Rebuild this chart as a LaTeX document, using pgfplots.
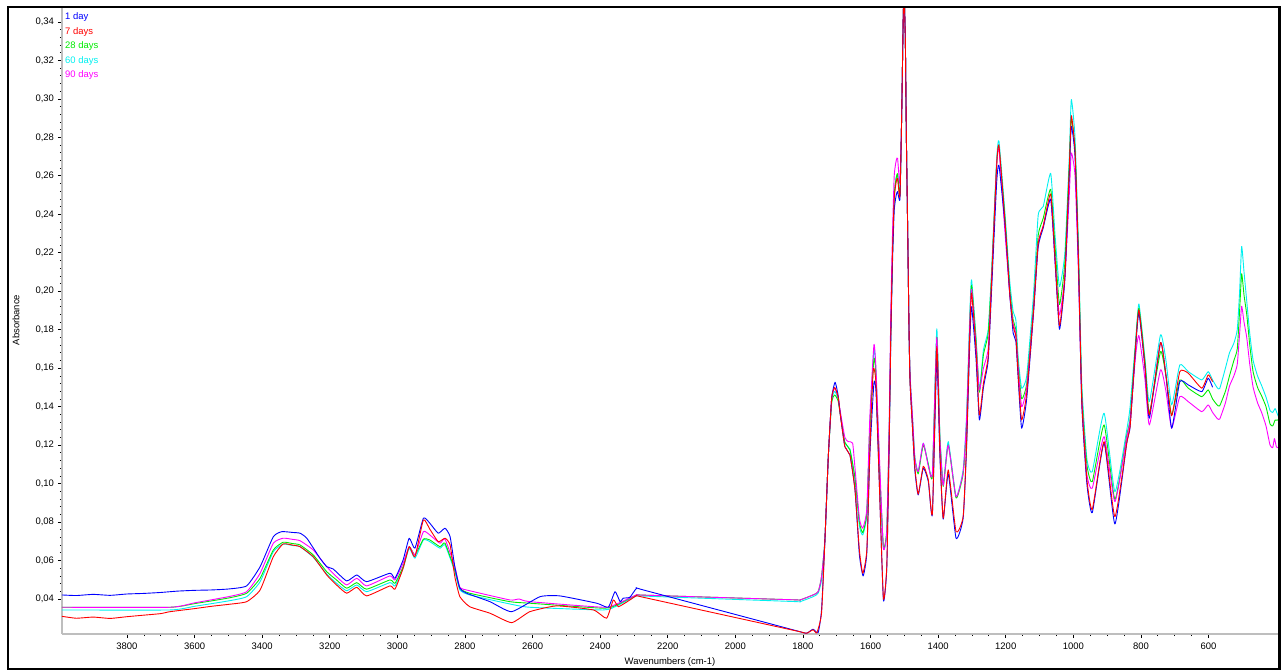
\documentclass[border=0pt]{standalone}
\usepackage{pgfplots}
\pgfplotsset{compat=1.18}
\usepackage{fontspec}
\setmainfont{Liberation Sans}
\definecolor{cB}{RGB}{0,0,255}
\definecolor{cR}{RGB}{255,0,0}
\definecolor{cG}{RGB}{0,235,0}
\definecolor{cC}{RGB}{0,240,240}
\definecolor{cM}{RGB}{255,0,255}
\definecolor{axgray}{RGB}{190,190,190}
\begin{document}
\begin{tikzpicture}
\useasboundingbox (0bp,0bp) rectangle (1284bp,671bp);
\begin{axis}[
  at={(62bp,37bp)}, anchor=south west,
  scale only axis, width=1217bp, height=625.5bp,
  x dir=reverse,
  xmin=391.6, xmax=3992.3, ymin=0.0218, ymax=0.347,
  enlargelimits=false,
  axis x line*=bottom, axis y line*=left,
  axis line style={draw=axgray, line width=2.4bp, -},
  tick align=outside,
  tick style={black, line width=0.7bp},
  major tick length=4bp, minor tick length=2bp,
  xtick={600,800,...,3800}, minor x tick num=3,
  ytick={0.04,0.06,...,0.341}, minor y tick num=4,
  /pgf/number format/assume math mode=true,
  /pgf/number format/use comma,
  /pgf/number format/1000 sep={},
  xticklabel style={font=\fontsize{9.5}{11}\selectfont, yshift=-1bp},
  yticklabel style={font=\fontsize{9.5}{11}\selectfont,
     /pgf/number format/fixed, /pgf/number format/fixed zerofill,
     /pgf/number format/precision=2, xshift=-0.5bp},
  xlabel={Wavenumbers (cm-1)}, ylabel={Absorbance},
  every axis x label/.style={at={(axis description cs:0.4996,0)}, anchor=center, yshift=-28bp, font=\fontsize{9.5}{11}\selectfont},
  every axis y label/.style={at={(axis description cs:-0.0378,0.502)}, anchor=center, rotate=90, font=\fontsize{9.5}{11}\selectfont},
  every axis plot/.append style={line width=0.9bp, line join=round, smooth, tension=0.3},
]
\addplot[cC] coordinates {(3993,0.0343)(3673,0.0343)(3600,0.0362)(3500,0.0390)(3446,0.0412)(3406,0.0490)(3367,0.0646)(3338,0.0685)(3310,0.0678)(3288,0.0672)(3249,0.0617)(3209,0.0530)(3180,0.0482)(3150,0.0443)(3120,0.0473)(3091,0.0438)(3022,0.0485)(3007,0.0468)(2983,0.0560)(2965,0.0664)(2948,0.0612)(2923,0.0707)(2904,0.0698)(2874,0.0664)(2859,0.0681)(2830,0.0542)(2815,0.0447)(2786,0.0421)(2667,0.0374)(2608,0.0357)(2391,0.0343)(2351,0.0364)(2292,0.0416)(2270,0.0415)(1830,0.0387)(1809,0.0386)(1770,0.0412)(1755,0.0430)(1745,0.0500)(1735,0.0707)(1725,0.1140)(1715,0.1430)(1706,0.1480)(1696,0.1440)(1690,0.1370)(1676,0.1210)(1661,0.1180)(1646,0.1020)(1633,0.0780)(1623,0.0733)(1611,0.0840)(1602,0.1300)(1590,0.1700)(1584,0.1580)(1574,0.1100)(1562,0.0664)(1552,0.0750)(1545,0.1250)(1540,0.1800)(1535,0.2200)(1530,0.2500)(1524,0.2590)(1520,0.2600)(1513,0.2500)(1508,0.2900)(1503,0.3450)(1500,0.3500)(1497,0.3300)(1494,0.2800)(1490,0.2303)(1486,0.1783)(1483,0.1560)(1475,0.1320)(1469,0.1140)(1459,0.1062)(1444,0.1210)(1429,0.1100)(1417,0.1054)(1404,0.1804)(1395,0.1260)(1385,0.1000)(1370,0.1218)(1347,0.0932)(1326,0.1071)(1316,0.1350)(1306,0.1900)(1301,0.2059)(1288,0.1760)(1278,0.1487)(1266,0.1695)(1252,0.1799)(1242,0.2100)(1227,0.2680)(1220,0.2780)(1202,0.2400)(1188,0.2050)(1178,0.1894)(1170,0.1850)(1163,0.1650)(1153,0.1496)(1138,0.1560)(1118,0.1980)(1104,0.2395)(1089,0.2441)(1067,0.2613)(1054,0.2290)(1041,0.2024)(1025,0.2200)(1012,0.2700)(1006,0.2997)(995,0.2800)(985,0.2250)(975,0.1520)(960,0.1130)(944,0.1062)(909,0.1366)(877,0.0958)(842,0.1279)(832,0.1400)(816,0.1740)(806,0.1934)(788,0.1650)(775,0.1426)(742,0.1773)(726,0.1640)(709,0.1409)(685,0.1617)(660,0.1582)(620,0.1539)(601,0.1582)(588,0.1539)(575,0.1500)(567,0.1494)(550,0.1600)(538,0.1680)(525,0.1730)(515,0.1800)(508,0.2000)(502,0.2233)(495,0.2100)(487,0.1950)(478,0.1780)(468,0.1640)(455,0.1560)(443,0.1510)(430,0.1450)(418,0.1380)(410,0.1370)(403,0.1390)(396,0.1360)(391,0.1340)};
\addplot[cG] coordinates {(3993,0.0357)(3673,0.0357)(3600,0.0376)(3500,0.0405)(3446,0.0430)(3406,0.0508)(3367,0.0655)(3338,0.0695)(3310,0.0688)(3288,0.0681)(3249,0.0629)(3209,0.0542)(3180,0.0499)(3150,0.0456)(3120,0.0485)(3091,0.0451)(3022,0.0499)(3007,0.0482)(2983,0.0568)(2965,0.0672)(2948,0.0629)(2923,0.0711)(2904,0.0707)(2874,0.0672)(2859,0.0690)(2830,0.0551)(2815,0.0456)(2786,0.0430)(2667,0.0386)(2608,0.0378)(2391,0.0352)(2351,0.0369)(2292,0.0421)(2270,0.0420)(1830,0.0396)(1809,0.0395)(1770,0.0421)(1755,0.0438)(1745,0.0516)(1735,0.0707)(1725,0.1140)(1715,0.1420)(1706,0.1461)(1696,0.1430)(1690,0.1366)(1676,0.1215)(1661,0.1175)(1646,0.1030)(1633,0.0800)(1623,0.0745)(1611,0.0850)(1602,0.1300)(1590,0.1650)(1584,0.1560)(1574,0.1100)(1562,0.0670)(1552,0.0760)(1545,0.1250)(1540,0.1800)(1535,0.2200)(1530,0.2500)(1524,0.2590)(1520,0.2610)(1513,0.2500)(1508,0.2900)(1503,0.3450)(1500,0.3500)(1497,0.3300)(1494,0.2800)(1490,0.2303)(1486,0.1783)(1483,0.1540)(1475,0.1300)(1469,0.1130)(1459,0.1050)(1444,0.1200)(1429,0.1100)(1417,0.1040)(1404,0.1760)(1395,0.1250)(1385,0.0985)(1370,0.1200)(1347,0.0925)(1326,0.1050)(1316,0.1300)(1306,0.1850)(1301,0.2030)(1288,0.1750)(1278,0.1475)(1266,0.1670)(1252,0.1780)(1242,0.2080)(1227,0.2660)(1220,0.2747)(1202,0.2370)(1188,0.2010)(1178,0.1850)(1170,0.1800)(1163,0.1620)(1153,0.1441)(1138,0.1520)(1118,0.1920)(1104,0.2290)(1089,0.2380)(1067,0.2530)(1054,0.2230)(1041,0.1931)(1025,0.2150)(1012,0.2650)(1006,0.2895)(995,0.2740)(985,0.2200)(975,0.1480)(960,0.1100)(944,0.1010)(909,0.1305)(877,0.0918)(842,0.1250)(832,0.1340)(816,0.1720)(806,0.1912)(788,0.1630)(775,0.1369)(742,0.1686)(726,0.1560)(709,0.1357)(685,0.1539)(660,0.1496)(620,0.1452)(601,0.1487)(588,0.1440)(575,0.1410)(567,0.1404)(550,0.1480)(538,0.1560)(525,0.1640)(515,0.1700)(508,0.1900)(502,0.2091)(495,0.1980)(487,0.1880)(478,0.1720)(468,0.1580)(455,0.1500)(443,0.1456)(430,0.1400)(418,0.1310)(410,0.1300)(403,0.1330)(396,0.1330)(391,0.1335)};
\addplot[cM] coordinates {(3993,0.0357)(3673,0.0357)(3600,0.0380)(3500,0.0412)(3446,0.0438)(3406,0.0534)(3367,0.0690)(3338,0.0716)(3310,0.0710)(3288,0.0703)(3249,0.0655)(3209,0.0568)(3180,0.0516)(3150,0.0473)(3120,0.0508)(3091,0.0468)(3022,0.0520)(3007,0.0499)(2983,0.0586)(2965,0.0672)(2948,0.0629)(2923,0.0750)(2904,0.0733)(2874,0.0690)(2859,0.0711)(2830,0.0568)(2815,0.0461)(2786,0.0443)(2667,0.0395)(2640,0.0400)(2608,0.0386)(2391,0.0357)(2351,0.0374)(2292,0.0421)(2270,0.0420)(1830,0.0396)(1809,0.0395)(1770,0.0421)(1755,0.0438)(1745,0.0516)(1735,0.0707)(1725,0.1140)(1715,0.1444)(1706,0.1496)(1696,0.1450)(1690,0.1380)(1676,0.1240)(1666,0.1218)(1653,0.1210)(1646,0.1080)(1633,0.0820)(1623,0.0768)(1611,0.0870)(1602,0.1350)(1590,0.1721)(1584,0.1600)(1574,0.1150)(1562,0.0664)(1552,0.0750)(1545,0.1300)(1540,0.1900)(1535,0.2300)(1530,0.2600)(1524,0.2680)(1520,0.2691)(1513,0.2560)(1508,0.2900)(1503,0.3450)(1500,0.3500)(1497,0.3300)(1494,0.2800)(1490,0.2303)(1486,0.1783)(1483,0.1560)(1475,0.1320)(1469,0.1130)(1459,0.1062)(1444,0.1210)(1429,0.1090)(1417,0.1054)(1404,0.1760)(1395,0.1240)(1385,0.0990)(1370,0.1200)(1347,0.0932)(1326,0.1060)(1316,0.1330)(1306,0.1850)(1301,0.2010)(1288,0.1720)(1278,0.1487)(1266,0.1600)(1252,0.1700)(1242,0.2050)(1227,0.2650)(1220,0.2737)(1202,0.2300)(1188,0.1980)(1178,0.1830)(1170,0.1780)(1163,0.1600)(1153,0.1400)(1138,0.1500)(1118,0.1900)(1104,0.2250)(1089,0.2340)(1067,0.2480)(1054,0.2150)(1041,0.1876)(1025,0.2080)(1012,0.2500)(1006,0.2719)(995,0.2600)(985,0.2100)(975,0.1450)(960,0.1050)(944,0.0976)(909,0.1244)(877,0.0906)(842,0.1240)(832,0.1330)(816,0.1660)(806,0.1770)(788,0.1540)(775,0.1305)(742,0.1591)(726,0.1480)(709,0.1288)(685,0.1452)(660,0.1426)(620,0.1374)(601,0.1409)(588,0.1370)(575,0.1340)(567,0.1335)(550,0.1420)(538,0.1507)(525,0.1560)(515,0.1620)(508,0.1780)(502,0.1922)(495,0.1840)(487,0.1760)(478,0.1620)(468,0.1500)(455,0.1420)(443,0.1370)(430,0.1300)(418,0.1200)(410,0.1187)(405,0.1234)(399,0.1190)(391,0.1187)};
\addplot[cB] coordinates {(3993,0.0421)(3950,0.0418)(3900,0.0424)(3850,0.0419)(3800,0.0426)(3750,0.0429)(3700,0.0434)(3650,0.0441)(3600,0.0445)(3550,0.0447)(3500,0.0452)(3446,0.0468)(3406,0.0568)(3367,0.0724)(3342,0.0750)(3310,0.0746)(3288,0.0742)(3268,0.0716)(3229,0.0612)(3209,0.0568)(3190,0.0556)(3150,0.0494)(3120,0.0525)(3091,0.0490)(3022,0.0534)(3007,0.0508)(2983,0.0603)(2965,0.0716)(2948,0.0664)(2923,0.0820)(2904,0.0794)(2879,0.0742)(2859,0.0768)(2844,0.0724)(2830,0.0568)(2815,0.0456)(2795,0.0430)(2726,0.0386)(2662,0.0334)(2578,0.0412)(2519,0.0416)(2410,0.0378)(2376,0.0357)(2356,0.0438)(2341,0.0386)(2332,0.0404)(2312,0.0409)(2292,0.0456)(2270,0.0446)(1830,0.0240)(1809,0.0230)(1789,0.0222)(1770,0.0243)(1755,0.0225)(1745,0.0343)(1735,0.0707)(1725,0.1140)(1715,0.1444)(1705,0.1527)(1696,0.1460)(1690,0.1366)(1676,0.1192)(1661,0.1149)(1646,0.0967)(1633,0.0630)(1622,0.0520)(1611,0.0640)(1602,0.1150)(1590,0.1522)(1584,0.1480)(1574,0.1000)(1562,0.0395)(1552,0.0560)(1545,0.1180)(1540,0.1750)(1535,0.2150)(1530,0.2420)(1524,0.2500)(1520,0.2518)(1513,0.2480)(1508,0.2900)(1503,0.3450)(1500,0.3500)(1497,0.3300)(1494,0.2800)(1490,0.2303)(1486,0.1783)(1483,0.1522)(1475,0.1262)(1469,0.1070)(1459,0.0941)(1444,0.1080)(1429,0.1010)(1417,0.0840)(1404,0.1643)(1395,0.1150)(1385,0.0815)(1370,0.1050)(1347,0.0716)(1326,0.0820)(1316,0.1180)(1306,0.1750)(1301,0.1920)(1288,0.1650)(1278,0.1331)(1266,0.1500)(1252,0.1640)(1242,0.2000)(1227,0.2560)(1220,0.2654)(1202,0.2340)(1188,0.1980)(1178,0.1782)(1170,0.1740)(1163,0.1540)(1153,0.1288)(1138,0.1440)(1118,0.1880)(1104,0.2230)(1089,0.2330)(1067,0.2478)(1054,0.2150)(1041,0.1802)(1025,0.2060)(1012,0.2600)(1006,0.2858)(995,0.2700)(985,0.2150)(975,0.1410)(960,0.1000)(944,0.0849)(909,0.1210)(877,0.0790)(842,0.1210)(832,0.1296)(816,0.1700)(806,0.1886)(788,0.1600)(775,0.1340)(742,0.1733)(726,0.1560)(709,0.1288)(685,0.1530)(660,0.1513)(620,0.1478)(601,0.1548)(588,0.1501)};
\addplot[cR] coordinates {(3993,0.0310)(3950,0.0300)(3900,0.0306)(3850,0.0299)(3800,0.0308)(3750,0.0316)(3700,0.0324)(3673,0.0334)(3600,0.0350)(3550,0.0362)(3500,0.0372)(3446,0.0386)(3406,0.0447)(3367,0.0620)(3338,0.0686)(3310,0.0680)(3288,0.0672)(3249,0.0620)(3209,0.0525)(3180,0.0473)(3150,0.0430)(3120,0.0461)(3091,0.0416)(3022,0.0468)(3007,0.0451)(2983,0.0560)(2965,0.0672)(2948,0.0620)(2923,0.0811)(2904,0.0763)(2879,0.0698)(2859,0.0716)(2844,0.0681)(2830,0.0516)(2815,0.0412)(2786,0.0360)(2726,0.0326)(2662,0.0277)(2608,0.0334)(2529,0.0364)(2420,0.0343)(2381,0.0300)(2361,0.0395)(2346,0.0360)(2312,0.0395)(2292,0.0417)(2270,0.0408)(1830,0.0238)(1809,0.0230)(1789,0.0222)(1770,0.0240)(1759,0.0224)(1745,0.0326)(1735,0.0707)(1725,0.1140)(1715,0.1444)(1706,0.1500)(1696,0.1452)(1690,0.1366)(1676,0.1192)(1661,0.1149)(1646,0.0967)(1633,0.0655)(1623,0.0534)(1611,0.0655)(1602,0.1175)(1592,0.1591)(1584,0.1522)(1574,0.1001)(1562,0.0404)(1552,0.0568)(1545,0.1200)(1540,0.1780)(1535,0.2200)(1530,0.2480)(1524,0.2570)(1520,0.2587)(1513,0.2492)(1508,0.2900)(1503,0.3450)(1500,0.3500)(1497,0.3300)(1494,0.2800)(1490,0.2303)(1486,0.1783)(1483,0.1522)(1475,0.1262)(1469,0.1088)(1459,0.0945)(1444,0.1090)(1429,0.1019)(1417,0.0846)(1404,0.1712)(1395,0.1175)(1385,0.0820)(1370,0.1071)(1347,0.0750)(1326,0.0830)(1316,0.1200)(1306,0.1800)(1301,0.1990)(1288,0.1695)(1278,0.1357)(1266,0.1522)(1252,0.1660)(1242,0.2042)(1227,0.2648)(1220,0.2756)(1202,0.2357)(1188,0.1987)(1178,0.1816)(1170,0.1765)(1163,0.1561)(1153,0.1331)(1138,0.1469)(1118,0.1894)(1104,0.2247)(1089,0.2339)(1067,0.2506)(1054,0.2172)(1041,0.1821)(1025,0.2080)(1012,0.2635)(1006,0.2913)(995,0.2728)(985,0.2172)(975,0.1431)(960,0.1024)(944,0.0866)(909,0.1218)(877,0.0828)(842,0.1210)(832,0.1296)(816,0.1709)(806,0.1903)(788,0.1611)(775,0.1357)(742,0.1733)(726,0.1565)(709,0.1352)(685,0.1582)(660,0.1574)(620,0.1496)(601,0.1565)(588,0.1530)};
\begin{scope}[every node/.style={anchor=west, inner sep=0pt, font=\fontsize{9.5}{11}\selectfont}]
\node[text=cB] at (rel axis cs:0.0025,0.9869) {1 day};
\node[text=cR] at (rel axis cs:0.0025,0.9629) {7 days};
\node[text=cG] at (rel axis cs:0.0025,0.9405) {28 days};
\node[text=cC] at (rel axis cs:0.0025,0.9166) {60 days};
\node[text=cM] at (rel axis cs:0.0025,0.8937) {90 days};
\end{scope}
\end{axis}
\draw[line width=2.3bp] (7.7bp,2.2bp) rectangle (1279.5bp,664.3bp);
\end{tikzpicture}
\end{document}
